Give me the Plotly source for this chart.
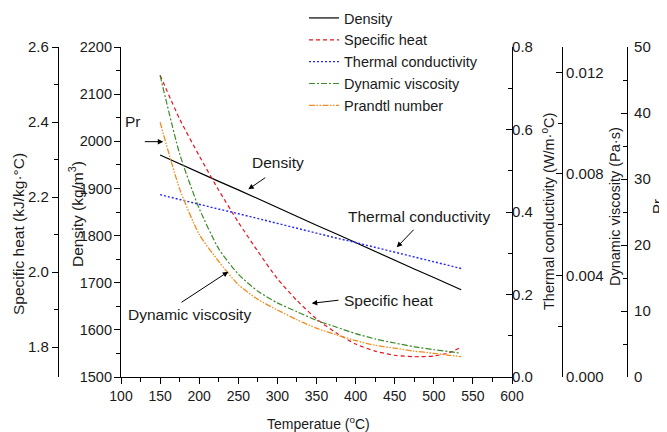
import plotly.graph_objects as go

# page is rendered with an 8px body margin: lay out in reference pixels and shift
OFF = 8
W, H = 667 - OFF, 432 - OFF

temperature = [150, 175, 200, 225, 250, 275, 300, 325, 350, 375, 400, 425, 450, 475, 500, 520, 535]
density = [1971, 1952, 1934, 1915, 1897, 1878, 1859, 1841, 1822, 1804, 1785, 1767, 1748, 1729, 1711, 1696, 1685]
specific_heat = [2.525, 2.408, 2.31, 2.218, 2.133, 2.055, 1.982, 1.924, 1.875, 1.838, 1.808, 1.789, 1.778, 1.774, 1.776, 1.785, 1.80]
thermal_cond = [0.442, 0.430, 0.419, 0.407, 0.396, 0.384, 0.372, 0.361, 0.349, 0.337, 0.326, 0.314, 0.303, 0.291, 0.279, 0.270, 0.263]
viscosity = [0.01188, 0.00879, 0.00664, 0.00505, 0.00405, 0.00338, 0.00292, 0.00257, 0.00223, 0.00197, 0.00171, 0.00150, 0.00134, 0.00119, 0.00108, 0.00100, 0.00093]
prandtl = [38.6, 28.5, 21.6, 17.5, 14.0, 11.76, 10.15, 8.68, 7.39, 6.41, 5.52, 4.80, 4.36, 3.92, 3.59, 3.29, 3.09]

FONT = "Liberation Sans, Arial, sans-serif"
TXT = "#1a1a1a"


def px_x(p):
    return (p - OFF) / W


def px_y(p):
    return 1 - (p - OFF) / H


fig = go.Figure()
fig.add_trace(go.Scatter(x=temperature, y=density, name="Density", mode="lines",
                         line=dict(color="black", width=1.2), yaxis="y"))
fig.add_trace(go.Scatter(x=temperature, y=specific_heat, name="Specific heat", mode="lines",
                         line=dict(color="#e8141c", width=1.2, dash="4px,3px", shape="spline", smoothing=0.6),
                         yaxis="y2"))
fig.add_trace(go.Scatter(x=temperature, y=thermal_cond, name="Thermal conductivity", mode="lines",
                         line=dict(color="#2424ff", width=1.4, dash="2px,2px"), yaxis="y3"))
fig.add_trace(go.Scatter(x=temperature, y=viscosity, name="Dynamic viscosity", mode="lines",
                         line=dict(color="#3d8a2a", width=1.2, dash="6px,2px,2px,2px", shape="spline", smoothing=0.6),
                         yaxis="y4"))
fig.add_trace(go.Scatter(x=temperature, y=prandtl, name="Prandtl number", mode="lines",
                         line=dict(color="#f08c1e", width=1.3, dash="6px,1.5px,1.5px,1.5px,1.5px,1.5px",
                                   shape="spline", smoothing=0.6),
                         yaxis="y5"))


def axis_common(size):
    return dict(showline=True, linecolor="black", linewidth=1.2, showgrid=False, zeroline=False,
                tickcolor="black", ticklen=6, tickwidth=1.2,
                tickfont=dict(family=FONT, size=size, color=TXT))


def minor(dt, where, **kw):
    return dict(dtick=dt, ticks=where, ticklen=4, tickcolor="black", tickwidth=1.1, **kw)


ydom = [px_y(377), px_y(47)]

fig.update_layout(
    width=W, height=H,
    margin=dict(l=0, r=0, t=0, b=0, autoexpand=False),
    paper_bgcolor="white", plot_bgcolor="white",
    font=dict(family=FONT, size=14, color=TXT),
    xaxis=dict(domain=[px_x(121), px_x(512)], range=[100, 600], dtick=50, tick0=100,
               ticks="outside", minor=minor(25, "outside"), anchor="y", **axis_common(14)),
    yaxis=dict(domain=ydom, range=[1500, 2200], dtick=100, tick0=1500, ticks="outside",
               minor=minor(50, "outside"), anchor="x", side="left", ticklabelstandoff=-1,
               **axis_common(14.5)),
    yaxis2=dict(overlaying="y", anchor="free", position=px_x(58), side="left",
                range=[1.72, 2.6], tick0=1.8, dtick=0.2, tickformat=".1f", ticks="outside",
                minor=minor(0.1, "outside", tick0=1.8), ticklabelstandoff=0, **axis_common(15)),
    yaxis3=dict(overlaying="y", anchor="x", side="right",
                range=[0, 0.8], tick0=0, dtick=0.2, tickformat=".1f", ticks="inside",
                minor=minor(0.1, "inside"), ticklabelstandoff=-4, **axis_common(15)),
    yaxis4=dict(overlaying="y", anchor="free", position=px_x(562), side="right",
                range=[0, 0.013], tickvals=[0, 0.004, 0.008, 0.012], tickformat=".3f", ticks="inside",
                minor=dict(tickvals=[0.002, 0.006, 0.010], ticks="inside", ticklen=4, tickcolor="black"),
                ticklabelstandoff=0, **axis_common(15)),
    yaxis5=dict(overlaying="y", anchor="free", position=px_x(627), side="right",
                range=[0, 50], tick0=0, dtick=10, ticks="inside",
                minor=minor(5, "inside"), ticklabelstandoff=3, **axis_common(15)),
    legend=dict(x=px_x(304), y=px_y(2), xanchor="left", yanchor="top",
                font=dict(family=FONT, size=14.5, color=TXT), bgcolor="rgba(0,0,0,0)",
                tracegroupgap=0, itemwidth=30),
    showlegend=True,
)

# axis titles (rotated)
titles = [
    ("Specific heat (kJ/kg·°C)", 18, 234, 15.5),
    ("Density (kg/m<sup>3</sup>)", 76, 214, 15.5),
    ("Thermal conductivity (W/m·<sup>o</sup>C)", 548, 212, 14.5),
    ("Dynamic viscosity (Pa·s)", 615, 207, 14.5),
    ("Pr", 657, 207, 15),
]
for text, cx, cy, fs in titles:
    fig.add_annotation(text=text, x=px_x(cx), y=px_y(cy), xref="paper", yref="paper",
                       showarrow=False, textangle=-90, xanchor="center", yanchor="middle",
                       font=dict(family=FONT, size=fs, color=TXT))
fig.add_annotation(text="Temperatue (<sup>o</sup>C)", x=px_x(318), y=px_y(423), xref="paper", yref="paper",
                   showarrow=False, xanchor="center", yanchor="middle",
                   font=dict(family=FONT, size=14, color=TXT))

# curve labels (data coordinates: temperature, density axis)
labels = [
    ("Pr", 115.3, 2041),
    ("Density", 300.8, 1954),
    ("Thermal conductivity", 481.1, 1841.5),
    ("Specific heat", 442.7, 1663.3),
    ("Dynamic viscosity", 188.2, 1633.6),
]
for text, tx, ty in labels:
    fig.add_annotation(text=text, x=tx, y=ty, xref="x", yref="y", showarrow=False,
                       xanchor="center", yanchor="middle", font=dict(family=FONT, size=15.5, color=TXT))

# arrows: head (temperature, density) and tail offset in pixels
arrows = [
    (154.1, 1999.2, -20, 0),
    (262.8, 1898.2, 18.4, -12.6),
    (452.6, 1775.1, 18.3, -19),
    (343.9, 1656.3, 28.3, -3.3),
    (237.2, 1723.4, -48.3, 31.6),
]
for hx, hy, ax, ay in arrows:
    fig.add_annotation(text="", x=hx, y=hy, xref="x", yref="y", ax=ax, ay=ay,
                       axref="pixel", ayref="pixel", showarrow=True, arrowhead=2,
                       arrowsize=1.1, arrowwidth=1, arrowcolor="black", standoff=0, startstandoff=0)

fig.write_html("out.html")
